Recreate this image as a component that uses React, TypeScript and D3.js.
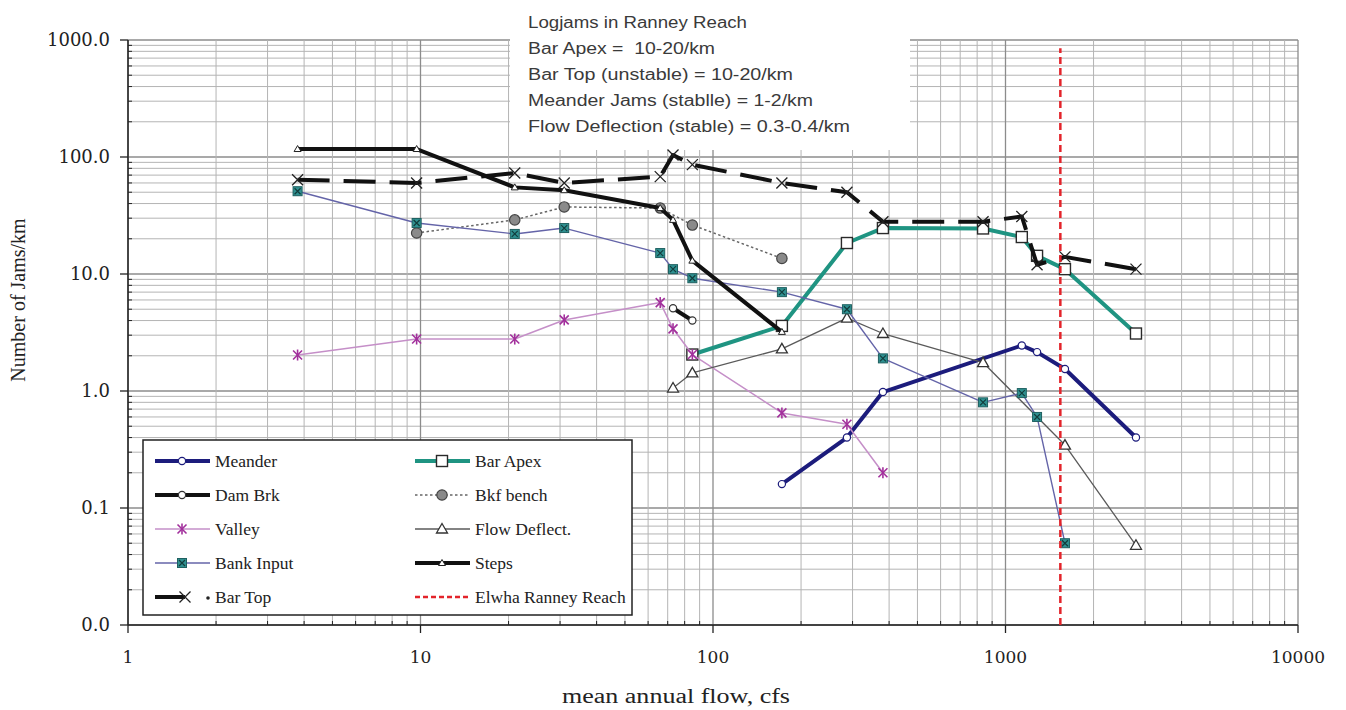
import React from "react";
import * as d3 from "d3";

const W = 1346;
const H = 710;
const M = { left: 128, right: 1298, top: 40, bottom: 625 };

// mean annual flow (cfs) / jams per km
const meanderFlow = [172, 287, 381, 1137, 1282, 1597, 2793];
const meanderJams = [0.16, 0.4, 0.98, 2.45, 2.15, 1.54, 0.4];

const barApexFlow = [85, 172, 287, 381, 838, 1137, 1282, 1597, 2793];
const barApexJams = [2.05, 3.6, 18.4, 24.7, 24.5, 20.7, 14.3, 11.0, 3.1];

const damBrkFlow = [73, 85];
const damBrkJams = [5.1, 4.0];

const bkfFlow = [9.7, 21, 31, 66, 85, 172];
const bkfJams = [22.4, 29, 37.4, 36.6, 26.2, 13.6];

const valleyFlow = [3.8, 9.7, 21, 31, 66, 73, 85, 172, 287, 381];
const valleyJams = [2.03, 2.78, 2.78, 4.05, 5.7, 3.4, 2.05, 0.65, 0.52, 0.2];

const flowDeflFlow = [73, 85, 172, 287, 381, 838, 1597, 2793];
const flowDeflJams = [1.06, 1.43, 2.29, 4.2, 3.1, 1.75, 0.345, 0.048];

const bankFlow = [3.8, 9.7, 21, 31, 66, 73, 85, 172, 287, 381, 838, 1137, 1282, 1597];
const bankJams = [51, 27.3, 22, 24.7, 15.1, 11.0, 9.2, 7.0, 5.0, 1.9, 0.8, 0.96, 0.6, 0.05];

const stepsFlow = [3.8, 9.7, 21, 31, 66, 73, 85, 172];
const stepsJams = [117, 117, 55, 52, 36.6, 29, 13, 3.2];

const barTopFlow = [3.8, 9.7, 21, 31, 66, 73, 85, 172, 287, 381, 838, 1137, 1282, 1597, 2793];
const barTopJams = [64, 60, 73, 60, 68, 104, 86, 60, 50, 28, 28, 31, 12, 14, 11];

const elwhaFlow = [1540, 1540];
const elwhaJams = [0.01, 850];

const xTickLabels = ["1", "10", "100", "1000", "10000"];
const yTickLabels = ["0.0", "0.1", "1.0", "10.0", "100.0", "1000.0"];

const noteLines = [
  "Logjams in Ranney Reach",
  "Bar Apex =  10-20/km",
  "Bar Top (unstable) = 10-20/km",
  "Meander Jams (stablle) = 1-2/km",
  "Flow Deflection (stable) = 0.3-0.4/km",
];
const noteWidths = [219, 187, 265, 285, 322];

type Kind = "circle" | "square" | "bkf" | "star" | "tri" | "bank" | "smalltri" | "x" | "none";

interface Series {
  name: string;
  flow: number[];
  jams: number[];
  color: string;
  width: number;
  dash?: string;
  marker: Kind;
  mstroke?: string;
}

const series: Series[] = [
  { name: "Meander", flow: meanderFlow, jams: meanderJams, color: "#1c1c7c", width: 4, marker: "circle", mstroke: "#1c1c7c" },
  { name: "Bar Apex", flow: barApexFlow, jams: barApexJams, color: "#1f9482", width: 4, marker: "square" },
  { name: "Dam Brk", flow: damBrkFlow, jams: damBrkJams, color: "#111", width: 4, marker: "circle", mstroke: "#333" },
  { name: "Bkf bench", flow: bkfFlow, jams: bkfJams, color: "#666", width: 1.5, dash: "2.5,2.5", marker: "bkf" },
  { name: "Valley", flow: valleyFlow, jams: valleyJams, color: "#c58fc8", width: 1.5, marker: "star" },
  { name: "Flow Deflect.", flow: flowDeflFlow, jams: flowDeflJams, color: "#5a5a5a", width: 1.3, marker: "tri" },
  { name: "Bank Input", flow: bankFlow, jams: bankJams, color: "#6464a8", width: 1.4, marker: "bank" },
  { name: "Steps", flow: stepsFlow, jams: stepsJams, color: "#111", width: 4, marker: "smalltri" },
  { name: "Bar Top", flow: barTopFlow, jams: barTopJams, color: "#111", width: 4, dash: "32,14", marker: "x" },
  { name: "Elwha Ranney Reach", flow: elwhaFlow, jams: elwhaJams, color: "#e3242b", width: 2.5, dash: "7,4", marker: "none" },
];

const Marker = ({ kind, x, y, stroke }: { kind: Kind; x: number; y: number; stroke?: string }) => {
  switch (kind) {
    case "circle":
      return <circle cx={x} cy={y} r={3.6} fill="#fff" stroke={stroke || "#333"} strokeWidth={1.2} />;
    case "square":
      return <rect x={x - 5.5} y={y - 5.5} width={11} height={11} fill="#fff" stroke="#2a2a2a" strokeWidth={1.4} />;
    case "bkf":
      return <circle cx={x} cy={y} r={5.2} fill="#8a8a8a" stroke="#444" strokeWidth={1.2} />;
    case "star":
      return (
        <g stroke="#a2309c" strokeWidth={1.6}>
          <line x1={x - 4.5} y1={y - 4.5} x2={x + 4.5} y2={y + 4.5} />
          <line x1={x - 4.5} y1={y + 4.5} x2={x + 4.5} y2={y - 4.5} />
          <line x1={x} y1={y - 5.5} x2={x} y2={y + 5.5} />
        </g>
      );
    case "tri":
      return <path d={`M${x},${y - 5.5}L${x + 5.5},${y + 4}L${x - 5.5},${y + 4}Z`} fill="#fff" stroke="#333" strokeWidth={1.3} />;
    case "bank":
      return (
        <g>
          <rect x={x - 4.5} y={y - 4.5} width={9} height={9} fill="#2f9090" stroke="#1e6060" strokeWidth={1} />
          <path d={`M${x - 3},${y - 3}L${x + 3},${y + 3}M${x - 3},${y + 3}L${x + 3},${y - 3}`} stroke="#123c3c" strokeWidth={1.2} />
        </g>
      );
    case "smalltri":
      return <path d={`M${x},${y - 3.5}L${x + 3.5},${y + 2.5}L${x - 3.5},${y + 2.5}Z`} fill="#fff" stroke="#222" strokeWidth={1} />;
    case "x":
      return <path d={`M${x - 5.5},${y - 5.5}L${x + 5.5},${y + 5.5}M${x - 5.5},${y + 5.5}L${x + 5.5},${y - 5.5}`} stroke="#222" strokeWidth={1.3} />;
    default:
      return null;
  }
};

const legendFont = { fontFamily: "'Liberation Serif', serif", fontSize: 17.5, fill: "#222" };

const LegendItem = ({ s, x, y }: { s: Series; x: number; y: number }) => {
  if (s.name === "Bar Top") {
    return (
      <g>
        <line x1={x} y1={y} x2={x + 30} y2={y} stroke={s.color} strokeWidth={4} />
        <Marker kind="x" x={x + 30} y={y} />
        <circle cx={x + 53} cy={y + 1} r={1.8} fill="#222" />
        <text x={x + 60} y={y + 6} {...legendFont}>{s.name}</text>
      </g>
    );
  }
  return (
    <g>
      <line x1={x} y1={y} x2={x + 55} y2={y} stroke={s.color} strokeWidth={s.width} strokeDasharray={s.dash === "32,14" ? undefined : s.dash === "7,4" ? "5,3" : s.dash} />
      <Marker kind={s.marker} x={x + 27} y={y} stroke={s.mstroke} />
      <text x={x + 60} y={y + 6} {...legendFont}>{s.name}</text>
    </g>
  );
};

export default function App() {
  const x = d3.scaleLog().domain([1, 10000]).range([M.left, M.right]);
  const y = d3.scaleLog().domain([0.01, 1000]).range([M.bottom, M.top]);

  const xTicks = x.ticks();
  const yTicks = y.ticks();
  const isMajor = (v: number) => Math.abs(Math.log10(v) - Math.round(Math.log10(v))) < 1e-6;
  const xMajors = xTicks.filter(isMajor);
  const yMajors = yTicks.filter(isMajor);

  const line = d3
    .line<[number, number]>()
    .x((d) => x(d[0]))
    .y((d) => y(d[1]));

  return (
    <div style={{ position: "absolute", left: 0, top: 0, width: W, height: H, background: "#fff" }}>
      <svg width={W} height={H}>
        <rect width={W} height={H} fill="#fff" />

        {/* grid */}
        {yTicks.map((t) => (
          <line key={"gy" + t} x1={M.left} x2={M.right} y1={y(t)} y2={y(t)} stroke={isMajor(t) ? "#8c8c8c" : "#b4b4b4"} strokeWidth={isMajor(t) ? 1.3 : 1} />
        ))}
        {xTicks.map((t) => (
          <line key={"gx" + t} x1={x(t)} x2={x(t)} y1={M.top} y2={M.bottom} stroke={isMajor(t) ? "#8c8c8c" : "#b4b4b4"} strokeWidth={isMajor(t) ? 1.3 : 1} />
        ))}

        {/* note box */}
        <rect x={510} y={0} width={400} height={150} fill="#fff" />
        {noteLines.map((t, i) => (
          <text
            key={t}
            x={528}
            y={28 + i * 26}
            fontFamily="'Liberation Sans', sans-serif"
            fontSize={16}
            fill="#3a3a3a"
            textLength={noteWidths[i]}
            lengthAdjust="spacingAndGlyphs"
            style={{ whiteSpace: "pre" }}
          >
            {t}
          </text>
        ))}

        {/* axes */}
        <line x1={M.left} x2={M.left} y1={M.top} y2={M.bottom} stroke="#222" strokeWidth={1.5} />
        <line x1={M.left} x2={M.right} y1={M.bottom} y2={M.bottom} stroke="#222" strokeWidth={1.5} />
        {yTicks.map((t) =>
          isMajor(t) ? (
            <line key={"ty" + t} x1={M.left - 8} x2={M.left} y1={y(t)} y2={y(t)} stroke="#222" strokeWidth={1.3} />
          ) : (
            <line key={"ty" + t} x1={M.left} x2={M.left + 4} y1={y(t)} y2={y(t)} stroke="#222" strokeWidth={1} />
          )
        )}
        {xTicks.map((t) =>
          isMajor(t) ? (
            <line key={"tx" + t} x1={x(t)} x2={x(t)} y1={M.bottom} y2={M.bottom + 8} stroke="#222" strokeWidth={1.3} />
          ) : (
            <line key={"tx" + t} x1={x(t)} x2={x(t)} y1={M.bottom - 4} y2={M.bottom} stroke="#222" strokeWidth={1} />
          )
        )}
        {yMajors.map((t, i) => (
          <text key={"ly" + t} x={M.left - 18} y={y(t) + 6} textAnchor="end" fontFamily="'DejaVu Serif', serif" fontSize={18} fill="#222">
            {yTickLabels[i]}
          </text>
        ))}
        {xMajors.map((t, i) => (
          <text key={"lx" + t} x={x(t)} y={663} textAnchor="middle" fontFamily="'DejaVu Serif', serif" fontSize={17} fill="#222">
            {xTickLabels[i]}
          </text>
        ))}
        <text x={676} y={703} textAnchor="middle" fontFamily="'Liberation Serif', serif" fontSize={20} fill="#222" textLength={228} lengthAdjust="spacingAndGlyphs">
          mean annual flow, cfs
        </text>
        <text transform="translate(25,300) rotate(-90)" textAnchor="middle" fontFamily="'Liberation Serif', serif" fontSize={20} fill="#222">
          Number of Jams/km
        </text>

        {/* series */}
        {series.map((s) => {
          const pts = s.flow.map((f, i) => [f, s.jams[i]] as [number, number]);
          return (
            <g key={s.name}>
              <path d={line(pts) || ""} fill="none" stroke={s.color} strokeWidth={s.width} strokeDasharray={s.dash} strokeLinejoin="round" />
              {pts.map((p, i) => (
                <Marker key={i} kind={s.marker} x={x(p[0])} y={y(p[1])} stroke={s.mstroke} />
              ))}
            </g>
          );
        })}

        {/* legend */}
        <rect x={143} y={440} width={489} height={175} fill="#fff" stroke="#222" strokeWidth={1.5} />
        {series.map((s, i) => (
          <LegendItem key={"lg" + s.name} s={s} x={i % 2 === 0 ? 155 : 415} y={461 + Math.floor(i / 2) * 34} />
        ))}
      </svg>
    </div>
  );
}
